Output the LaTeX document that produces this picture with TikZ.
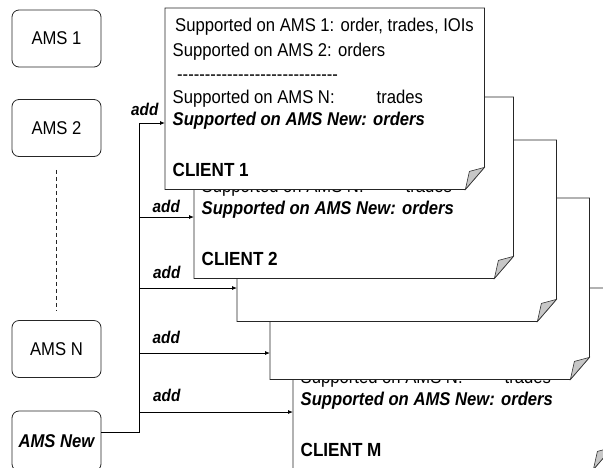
\documentclass[tikz,border=0pt]{standalone}
\usepackage{fontspec}
\setmainfont{Liberation Sans}[FakeStretch=0.9]
\usetikzlibrary{arrows.meta}

% a stack card: invisible frame node plus a note outline with a folded corner
\newcommand\drawcard[3]{%
  \node[cardnode, anchor=north west] (#1) at (#2,#3) {};
  \draw[cardframe] (#1.north west) -- (#1.north east) -- ([yshift=22pt]#1.south east)
    -- ([xshift=-19pt]#1.south east) -- (#1.south west) -- cycle;
  \draw[fold] ([yshift=22pt]#1.south east) -- ([xshift=-15pt,yshift=18pt]#1.south east)
    -- ([xshift=-19pt]#1.south east) -- cycle;
}
\newcommand\hyphens[1]{\foreach \k in {1,...,#1}{-\kern0pt}}
% upper lines of a card (only the front card shows them)
\newcommand\cardhead[1]{%
  \node[body] (#1-a) at ([xshift=10pt,yshift=-23.5pt]#1.north west) {Supported on AMS 1: order, trades, IOIs};
  \node[body] (#1-b) at ([xshift=7.5pt,yshift=-48.5pt]#1.north west) {Supported on AMS 2: orders};
  \node[body] (#1-c) at ([xshift=12pt,yshift=-72pt]#1.north west) {\hyphens{29}};
}
% lower lines and the client name
\newcommand\cardtext[2]{%
  \node[body] (#1-d) at ([xshift=7.5pt,yshift=-95pt]#1.north west) {\makebox[204pt][l]{Supported on AMS N:}trades};
  \node[newln] (#1-e) at ([xshift=7.5pt,yshift=-117pt]#1.north west) {Supported on AMS New: orders};
  \node[title] (#1-f) at ([xshift=7.5pt,yshift=-168pt]#1.north west) {#2};
}

\begin{document}
\begin{tikzpicture}[x=1pt,y=-1pt,
  ams/.style={draw=black!85, line width=0.8pt, rounded corners=7pt,
    minimum width=89pt, minimum height=57pt, inner sep=0pt,
    font=\fontsize{18.5}{22}\selectfont},
  cardnode/.style={inner sep=0pt, minimum width=319pt, minimum height=181pt},
  cardframe/.style={draw=black!85, line width=0.8pt, fill=white, line join=miter},
  fold/.style={draw=black!80, line width=0.6pt, fill=black!22},
  body/.style={anchor=base west, inner sep=0pt, font=\fontsize{18.5}{22}\selectfont},
  newln/.style={body, font=\fontsize{18.5}{22}\selectfont\bfseries\itshape},
  title/.style={body, font=\fontsize{19}{22}\selectfont\bfseries},
  addlbl/.style={anchor=base west, inner sep=0pt, font=\fontsize{17}{20}\selectfont\bfseries\itshape},
  wire/.style={draw=black, line width=0.8pt},
  feed/.style={wire, -{Latex[length=5pt,width=4pt]}},
]
\useasboundingbox (0,0) rectangle (603,467);
\clip (0,0) rectangle (603,467);

% sources
\node[ams] (ams1) at (56.5,38.5) {AMS 1};
\node[ams] (ams2) at (56.5,128) {AMS 2};
\node[ams] (amsN) at (56.5,349) {AMS N};
\node[ams, minimum height=60pt, font=\fontsize{18.5}{22}\selectfont\bfseries\itshape] (amsNew) at (56.5,441) {AMS New};
\draw[draw=black!85, line width=0.7pt, dash pattern=on 4pt off 3pt]
  ([yshift=-13pt]ams2.south) -- ([yshift=10pt]amsN.north);

% client cards, back to front
\drawcard{cM}{293}{288}
\cardtext{cM}{CLIENT M}
\drawcard{c4}{270}{198}
\drawcard{c3}{237}{140}
\drawcard{c2}{194}{97}
\cardtext{c2}{CLIENT 2}
\drawcard{c1}{165}{8}
\cardhead{c1}
\cardtext{c1}{CLIENT 1}

% distribution from the new AMS
\coordinate (src) at (amsNew.east |- 0,432);
\coordinate (bus) at (139,432);
\coordinate (t1) at (139,123);
\coordinate (t2) at (139,217);
\coordinate (t3) at (139,288);
\coordinate (t4) at (139,353);
\coordinate (t5) at (139,412);
\draw[feed] (src) -- (bus) -- (t1) -- (t1 -| c1.west);
\draw[feed] (t2) -- (t2 -| c2.west);
\draw[feed] (t3) -- (t3 -| c3.west);
\draw[feed] (t4) -- (t4 -| c4.west);
\draw[feed] (t5) -- (t5 -| cM.west);

\node[addlbl] (add1) at (131,115) {add};
\node[addlbl] (add2) at (152.5,212) {add};
\node[addlbl] (add3) at (153,278) {add};
\node[addlbl] (add4) at (152.5,343) {add};
\node[addlbl] (add5) at (153,401) {add};
\end{tikzpicture}
\end{document}
